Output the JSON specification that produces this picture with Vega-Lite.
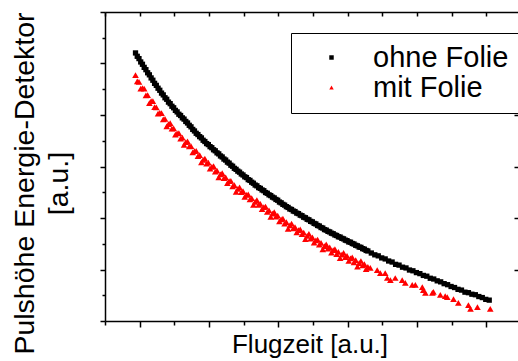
{
"$schema": "https://vega.github.io/schema/vega-lite/v6.json",
"width": 413, "height": 309,
"autosize": {"type": "none"},
"padding": {"left": 105, "top": 12, "right": 0, "bottom": 40},
"background": "white",
"config": {"view": {"stroke": null}, "font": "Liberation Sans"},
"data": {"values": [
{"t":0.88,"h":10.41,"s":"ohne Folie"},{"t":0.93,"h":10.28,"s":"ohne Folie"},{"t":0.98,"h":10.19,"s":"ohne Folie"},{"t":1.03,"h":10.06,"s":"ohne Folie"},{"t":1.08,"h":9.97,"s":"ohne Folie"},{"t":1.13,"h":9.85,"s":"ohne Folie"},{"t":1.18,"h":9.76,"s":"ohne Folie"},{"t":1.23,"h":9.64,"s":"ohne Folie"},{"t":1.28,"h":9.56,"s":"ohne Folie"},{"t":1.33,"h":9.44,"s":"ohne Folie"},{"t":1.38,"h":9.35,"s":"ohne Folie"},{"t":1.43,"h":9.23,"s":"ohne Folie"},{"t":1.48,"h":9.15,"s":"ohne Folie"},{"t":1.53,"h":9.04,"s":"ohne Folie"},{"t":1.58,"h":8.96,"s":"ohne Folie"},{"t":1.63,"h":8.85,"s":"ohne Folie"},{"t":1.68,"h":8.78,"s":"ohne Folie"},{"t":1.73,"h":8.67,"s":"ohne Folie"},{"t":1.78,"h":8.61,"s":"ohne Folie"},{"t":1.83,"h":8.5,"s":"ohne Folie"},{"t":1.88,"h":8.44,"s":"ohne Folie"},{"t":1.93,"h":8.34,"s":"ohne Folie"},{"t":1.98,"h":8.28,"s":"ohne Folie"},{"t":2.03,"h":8.18,"s":"ohne Folie"},{"t":2.08,"h":8.12,"s":"ohne Folie"},{"t":2.13,"h":8.03,"s":"ohne Folie"},{"t":2.18,"h":7.98,"s":"ohne Folie"},{"t":2.23,"h":7.89,"s":"ohne Folie"},{"t":2.28,"h":7.84,"s":"ohne Folie"},{"t":2.33,"h":7.75,"s":"ohne Folie"},{"t":2.38,"h":7.69,"s":"ohne Folie"},{"t":2.43,"h":7.6,"s":"ohne Folie"},{"t":2.48,"h":7.54,"s":"ohne Folie"},{"t":2.53,"h":7.44,"s":"ohne Folie"},{"t":2.58,"h":7.38,"s":"ohne Folie"},{"t":2.63,"h":7.29,"s":"ohne Folie"},{"t":2.68,"h":7.24,"s":"ohne Folie"},{"t":2.73,"h":7.16,"s":"ohne Folie"},{"t":2.78,"h":7.11,"s":"ohne Folie"},{"t":2.83,"h":7.02,"s":"ohne Folie"},{"t":2.88,"h":6.97,"s":"ohne Folie"},{"t":2.93,"h":6.89,"s":"ohne Folie"},{"t":2.98,"h":6.85,"s":"ohne Folie"},{"t":3.03,"h":6.77,"s":"ohne Folie"},{"t":3.08,"h":6.73,"s":"ohne Folie"},{"t":3.13,"h":6.65,"s":"ohne Folie"},{"t":3.18,"h":6.61,"s":"ohne Folie"},{"t":3.23,"h":6.53,"s":"ohne Folie"},{"t":3.28,"h":6.49,"s":"ohne Folie"},{"t":3.33,"h":6.41,"s":"ohne Folie"},{"t":3.38,"h":6.37,"s":"ohne Folie"},{"t":3.43,"h":6.29,"s":"ohne Folie"},{"t":3.48,"h":6.25,"s":"ohne Folie"},{"t":3.53,"h":6.17,"s":"ohne Folie"},{"t":3.58,"h":6.13,"s":"ohne Folie"},{"t":3.63,"h":6.05,"s":"ohne Folie"},{"t":3.68,"h":6.01,"s":"ohne Folie"},{"t":3.73,"h":5.93,"s":"ohne Folie"},{"t":3.78,"h":5.89,"s":"ohne Folie"},{"t":3.83,"h":5.82,"s":"ohne Folie"},{"t":3.88,"h":5.78,"s":"ohne Folie"},{"t":3.93,"h":5.71,"s":"ohne Folie"},{"t":3.98,"h":5.67,"s":"ohne Folie"},{"t":4.03,"h":5.6,"s":"ohne Folie"},{"t":4.08,"h":5.57,"s":"ohne Folie"},{"t":4.13,"h":5.49,"s":"ohne Folie"},{"t":4.18,"h":5.46,"s":"ohne Folie"},{"t":4.23,"h":5.39,"s":"ohne Folie"},{"t":4.28,"h":5.35,"s":"ohne Folie"},{"t":4.33,"h":5.28,"s":"ohne Folie"},{"t":4.38,"h":5.25,"s":"ohne Folie"},{"t":4.43,"h":5.18,"s":"ohne Folie"},{"t":4.48,"h":5.15,"s":"ohne Folie"},{"t":4.53,"h":5.09,"s":"ohne Folie"},{"t":4.58,"h":5.06,"s":"ohne Folie"},{"t":4.63,"h":4.99,"s":"ohne Folie"},{"t":4.68,"h":4.96,"s":"ohne Folie"},{"t":4.73,"h":4.9,"s":"ohne Folie"},{"t":4.78,"h":4.87,"s":"ohne Folie"},{"t":4.83,"h":4.81,"s":"ohne Folie"},{"t":4.88,"h":4.78,"s":"ohne Folie"},{"t":4.93,"h":4.72,"s":"ohne Folie"},{"t":4.98,"h":4.69,"s":"ohne Folie"},{"t":5.03,"h":4.62,"s":"ohne Folie"},{"t":5.08,"h":4.59,"s":"ohne Folie"},{"t":5.13,"h":4.53,"s":"ohne Folie"},{"t":5.18,"h":4.5,"s":"ohne Folie"},{"t":5.23,"h":4.44,"s":"ohne Folie"},{"t":5.28,"h":4.41,"s":"ohne Folie"},{"t":5.33,"h":4.35,"s":"ohne Folie"},{"t":5.38,"h":4.33,"s":"ohne Folie"},{"t":5.43,"h":4.27,"s":"ohne Folie"},{"t":5.48,"h":4.25,"s":"ohne Folie"},{"t":5.53,"h":4.19,"s":"ohne Folie"},{"t":5.58,"h":4.17,"s":"ohne Folie"},{"t":5.63,"h":4.11,"s":"ohne Folie"},{"t":5.68,"h":4.09,"s":"ohne Folie"},{"t":5.73,"h":4.03,"s":"ohne Folie"},{"t":5.78,"h":4.01,"s":"ohne Folie"},{"t":5.83,"h":3.95,"s":"ohne Folie"},{"t":5.88,"h":3.93,"s":"ohne Folie"},{"t":5.93,"h":3.87,"s":"ohne Folie"},{"t":5.98,"h":3.85,"s":"ohne Folie"},{"t":6.03,"h":3.79,"s":"ohne Folie"},{"t":6.08,"h":3.77,"s":"ohne Folie"},{"t":6.13,"h":3.71,"s":"ohne Folie"},{"t":6.18,"h":3.69,"s":"ohne Folie"},{"t":6.23,"h":3.63,"s":"ohne Folie"},{"t":6.28,"h":3.61,"s":"ohne Folie"},{"t":6.33,"h":3.55,"s":"ohne Folie"},{"t":6.38,"h":3.53,"s":"ohne Folie"},{"t":6.43,"h":3.48,"s":"ohne Folie"},{"t":6.48,"h":3.46,"s":"ohne Folie"},{"t":6.53,"h":3.41,"s":"ohne Folie"},{"t":6.58,"h":3.39,"s":"ohne Folie"},{"t":6.63,"h":3.34,"s":"ohne Folie"},{"t":6.68,"h":3.32,"s":"ohne Folie"},{"t":6.73,"h":3.27,"s":"ohne Folie"},{"t":6.78,"h":3.26,"s":"ohne Folie"},{"t":6.83,"h":3.21,"s":"ohne Folie"},{"t":6.88,"h":3.19,"s":"ohne Folie"},{"t":6.93,"h":3.14,"s":"ohne Folie"},{"t":6.98,"h":3.12,"s":"ohne Folie"},{"t":7.03,"h":3.07,"s":"ohne Folie"},{"t":7.08,"h":3.06,"s":"ohne Folie"},{"t":7.13,"h":3.01,"s":"ohne Folie"},{"t":7.18,"h":2.99,"s":"ohne Folie"},{"t":7.23,"h":2.94,"s":"ohne Folie"},{"t":7.28,"h":2.92,"s":"ohne Folie"},{"t":7.33,"h":2.87,"s":"ohne Folie"},{"t":7.38,"h":2.86,"s":"ohne Folie"},{"t":7.43,"h":2.81,"s":"ohne Folie"},{"t":7.48,"h":2.79,"s":"ohne Folie"},{"t":7.53,"h":2.74,"s":"ohne Folie"},{"t":7.58,"h":2.72,"s":"ohne Folie"},{"t":7.68,"h":2.64,"s":"ohne Folie"},{"t":7.78,"h":2.57,"s":"ohne Folie"},{"t":7.88,"h":2.53,"s":"ohne Folie"},{"t":7.98,"h":2.45,"s":"ohne Folie"},{"t":8.08,"h":2.41,"s":"ohne Folie"},{"t":8.18,"h":2.33,"s":"ohne Folie"},{"t":8.28,"h":2.29,"s":"ohne Folie"},{"t":8.38,"h":2.2,"s":"ohne Folie"},{"t":8.48,"h":2.17,"s":"ohne Folie"},{"t":8.58,"h":2.09,"s":"ohne Folie"},{"t":8.68,"h":2.06,"s":"ohne Folie"},{"t":8.78,"h":1.98,"s":"ohne Folie"},{"t":8.88,"h":1.95,"s":"ohne Folie"},{"t":8.98,"h":1.88,"s":"ohne Folie"},{"t":9.08,"h":1.84,"s":"ohne Folie"},{"t":9.18,"h":1.77,"s":"ohne Folie"},{"t":9.28,"h":1.74,"s":"ohne Folie"},{"t":9.38,"h":1.66,"s":"ohne Folie"},{"t":9.48,"h":1.63,"s":"ohne Folie"},{"t":9.58,"h":1.56,"s":"ohne Folie"},{"t":9.68,"h":1.52,"s":"ohne Folie"},{"t":9.78,"h":1.45,"s":"ohne Folie"},{"t":9.88,"h":1.41,"s":"ohne Folie"},{"t":9.98,"h":1.34,"s":"ohne Folie"},{"t":10.08,"h":1.3,"s":"ohne Folie"},{"t":10.18,"h":1.23,"s":"ohne Folie"},{"t":10.28,"h":1.2,"s":"ohne Folie"},{"t":10.38,"h":1.12,"s":"ohne Folie"},{"t":10.48,"h":1.1,"s":"ohne Folie"},{"t":10.58,"h":1.04,"s":"ohne Folie"},{"t":10.68,"h":1.02,"s":"ohne Folie"},{"t":10.78,"h":0.95,"s":"ohne Folie"},{"t":10.88,"h":0.91,"s":"ohne Folie"},{"t":10.98,"h":0.84,"s":"ohne Folie"},{"t":11.08,"h":0.81,"s":"ohne Folie"},
{"t":0.88,"h":9.55,"s":"mit Folie"},{"t":0.93,"h":9.31,"s":"mit Folie"},{"t":0.98,"h":9.29,"s":"mit Folie"},{"t":1.03,"h":9.02,"s":"mit Folie"},{"t":1.08,"h":9.04,"s":"mit Folie"},{"t":1.13,"h":9.02,"s":"mit Folie"},{"t":1.18,"h":8.76,"s":"mit Folie"},{"t":1.23,"h":8.77,"s":"mit Folie"},{"t":1.28,"h":8.46,"s":"mit Folie"},{"t":1.33,"h":8.54,"s":"mit Folie"},{"t":1.38,"h":8.54,"s":"mit Folie"},{"t":1.43,"h":8.31,"s":"mit Folie"},{"t":1.48,"h":8.3,"s":"mit Folie"},{"t":1.53,"h":8.05,"s":"mit Folie"},{"t":1.58,"h":8.08,"s":"mit Folie"},{"t":1.63,"h":8.07,"s":"mit Folie"},{"t":1.68,"h":7.83,"s":"mit Folie"},{"t":1.73,"h":7.85,"s":"mit Folie"},{"t":1.78,"h":7.56,"s":"mit Folie"},{"t":1.83,"h":7.65,"s":"mit Folie"},{"t":1.88,"h":7.68,"s":"mit Folie"},{"t":1.93,"h":7.47,"s":"mit Folie"},{"t":1.98,"h":7.48,"s":"mit Folie"},{"t":2.03,"h":7.24,"s":"mit Folie"},{"t":2.08,"h":7.29,"s":"mit Folie"},{"t":2.13,"h":7.3,"s":"mit Folie"},{"t":2.18,"h":7.08,"s":"mit Folie"},{"t":2.23,"h":7.12,"s":"mit Folie"},{"t":2.28,"h":6.84,"s":"mit Folie"},{"t":2.33,"h":6.95,"s":"mit Folie"},{"t":2.38,"h":6.98,"s":"mit Folie"},{"t":2.43,"h":6.78,"s":"mit Folie"},{"t":2.48,"h":6.79,"s":"mit Folie"},{"t":2.53,"h":6.55,"s":"mit Folie"},{"t":2.58,"h":6.6,"s":"mit Folie"},{"t":2.63,"h":6.61,"s":"mit Folie"},{"t":2.68,"h":6.4,"s":"mit Folie"},{"t":2.73,"h":6.44,"s":"mit Folie"},{"t":2.78,"h":6.16,"s":"mit Folie"},{"t":2.83,"h":6.26,"s":"mit Folie"},{"t":2.88,"h":6.31,"s":"mit Folie"},{"t":2.93,"h":6.11,"s":"mit Folie"},{"t":2.98,"h":6.15,"s":"mit Folie"},{"t":3.03,"h":5.92,"s":"mit Folie"},{"t":3.08,"h":5.99,"s":"mit Folie"},{"t":3.13,"h":6.01,"s":"mit Folie"},{"t":3.18,"h":5.8,"s":"mit Folie"},{"t":3.23,"h":5.84,"s":"mit Folie"},{"t":3.28,"h":5.58,"s":"mit Folie"},{"t":3.33,"h":5.69,"s":"mit Folie"},{"t":3.38,"h":5.74,"s":"mit Folie"},{"t":3.43,"h":5.55,"s":"mit Folie"},{"t":3.48,"h":5.58,"s":"mit Folie"},{"t":3.53,"h":5.35,"s":"mit Folie"},{"t":3.58,"h":5.43,"s":"mit Folie"},{"t":3.63,"h":5.44,"s":"mit Folie"},{"t":3.68,"h":5.23,"s":"mit Folie"},{"t":3.73,"h":5.28,"s":"mit Folie"},{"t":3.78,"h":5.01,"s":"mit Folie"},{"t":3.83,"h":5.13,"s":"mit Folie"},{"t":3.88,"h":5.19,"s":"mit Folie"},{"t":3.93,"h":5.0,"s":"mit Folie"},{"t":3.98,"h":5.04,"s":"mit Folie"},{"t":4.03,"h":4.82,"s":"mit Folie"},{"t":4.08,"h":4.9,"s":"mit Folie"},{"t":4.13,"h":4.92,"s":"mit Folie"},{"t":4.18,"h":4.72,"s":"mit Folie"},{"t":4.23,"h":4.77,"s":"mit Folie"},{"t":4.28,"h":4.51,"s":"mit Folie"},{"t":4.33,"h":4.63,"s":"mit Folie"},{"t":4.38,"h":4.69,"s":"mit Folie"},{"t":4.43,"h":4.51,"s":"mit Folie"},{"t":4.48,"h":4.55,"s":"mit Folie"},{"t":4.53,"h":4.34,"s":"mit Folie"},{"t":4.58,"h":4.42,"s":"mit Folie"},{"t":4.63,"h":4.44,"s":"mit Folie"},{"t":4.68,"h":4.24,"s":"mit Folie"},{"t":4.73,"h":4.3,"s":"mit Folie"},{"t":4.78,"h":4.04,"s":"mit Folie"},{"t":4.83,"h":4.17,"s":"mit Folie"},{"t":4.88,"h":4.23,"s":"mit Folie"},{"t":4.93,"h":4.05,"s":"mit Folie"},{"t":4.98,"h":4.09,"s":"mit Folie"},{"t":5.03,"h":3.87,"s":"mit Folie"},{"t":5.08,"h":3.95,"s":"mit Folie"},{"t":5.13,"h":3.98,"s":"mit Folie"},{"t":5.18,"h":3.78,"s":"mit Folie"},{"t":5.23,"h":3.84,"s":"mit Folie"},{"t":5.28,"h":3.58,"s":"mit Folie"},{"t":5.33,"h":3.71,"s":"mit Folie"},{"t":5.38,"h":3.78,"s":"mit Folie"},{"t":5.43,"h":3.6,"s":"mit Folie"},{"t":5.48,"h":3.65,"s":"mit Folie"},{"t":5.53,"h":3.44,"s":"mit Folie"},{"t":5.58,"h":3.53,"s":"mit Folie"},{"t":5.63,"h":3.56,"s":"mit Folie"},{"t":5.68,"h":3.37,"s":"mit Folie"},{"t":5.73,"h":3.43,"s":"mit Folie"},{"t":5.78,"h":3.18,"s":"mit Folie"},{"t":5.83,"h":3.31,"s":"mit Folie"},{"t":5.88,"h":3.38,"s":"mit Folie"},{"t":5.93,"h":3.2,"s":"mit Folie"},{"t":5.98,"h":3.25,"s":"mit Folie"},{"t":6.03,"h":3.04,"s":"mit Folie"},{"t":6.08,"h":3.13,"s":"mit Folie"},{"t":6.13,"h":3.16,"s":"mit Folie"},{"t":6.18,"h":2.97,"s":"mit Folie"},{"t":6.23,"h":3.03,"s":"mit Folie"},{"t":6.28,"h":2.78,"s":"mit Folie"},{"t":6.33,"h":2.91,"s":"mit Folie"},{"t":6.38,"h":2.98,"s":"mit Folie"},{"t":6.43,"h":2.81,"s":"mit Folie"},{"t":6.48,"h":2.86,"s":"mit Folie"},{"t":6.53,"h":2.66,"s":"mit Folie"},{"t":6.58,"h":2.75,"s":"mit Folie"},{"t":6.63,"h":2.79,"s":"mit Folie"},{"t":6.68,"h":2.6,"s":"mit Folie"},{"t":6.73,"h":2.68,"s":"mit Folie"},{"t":6.78,"h":2.44,"s":"mit Folie"},{"t":6.83,"h":2.58,"s":"mit Folie"},{"t":6.88,"h":2.65,"s":"mit Folie"},{"t":6.93,"h":2.48,"s":"mit Folie"},{"t":6.98,"h":2.53,"s":"mit Folie"},{"t":7.03,"h":2.33,"s":"mit Folie"},{"t":7.08,"h":2.43,"s":"mit Folie"},{"t":7.13,"h":2.47,"s":"mit Folie"},{"t":7.18,"h":2.28,"s":"mit Folie"},{"t":7.23,"h":2.36,"s":"mit Folie"},{"t":7.28,"h":2.11,"s":"mit Folie"},{"t":7.33,"h":2.25,"s":"mit Folie"},{"t":7.38,"h":2.33,"s":"mit Folie"},{"t":7.43,"h":2.16,"s":"mit Folie"},{"t":7.48,"h":2.21,"s":"mit Folie"},{"t":7.53,"h":2.01,"s":"mit Folie"},{"t":7.58,"h":2.1,"s":"mit Folie"},{"t":7.65,"h":2.06,"s":"mit Folie"},{"t":7.85,"h":1.98,"s":"mit Folie"},{"t":7.94,"h":1.86,"s":"mit Folie"},{"t":8.08,"h":1.86,"s":"mit Folie"},{"t":8.14,"h":1.67,"s":"mit Folie"},{"t":8.23,"h":1.59,"s":"mit Folie"},{"t":8.37,"h":1.67,"s":"mit Folie"},{"t":8.57,"h":1.59,"s":"mit Folie"},{"t":8.66,"h":1.48,"s":"mit Folie"},{"t":8.86,"h":1.4,"s":"mit Folie"},{"t":8.95,"h":1.4,"s":"mit Folie"},{"t":9.15,"h":1.32,"s":"mit Folie"},{"t":9.18,"h":1.2,"s":"mit Folie"},{"t":9.24,"h":1.09,"s":"mit Folie"},{"t":9.44,"h":1.09,"s":"mit Folie"},{"t":9.47,"h":1.13,"s":"mit Folie"},{"t":9.67,"h":1.01,"s":"mit Folie"},{"t":9.81,"h":0.97,"s":"mit Folie"},{"t":9.87,"h":0.93,"s":"mit Folie"},{"t":10.05,"h":0.85,"s":"mit Folie"},{"t":10.19,"h":0.7,"s":"mit Folie"},{"t":10.48,"h":0.62,"s":"mit Folie"},{"t":10.54,"h":0.47,"s":"mit Folie"},{"t":10.74,"h":0.54,"s":"mit Folie"},{"t":11.11,"h":0.47,"s":"mit Folie"}
]},
"layer": [
  {
    "mark": {"type": "point", "filled": true, "opacity": 1},
    "encoding": {
      "x": {"field": "t", "type": "quantitative",
        "scale": {"domain": [0, 11.91], "nice": false, "zero": false},
        "axis": {"orient": "bottom", "values": [0,1,2,3,4,5,6,7,8,9,10,11], "labels": false, "grid": false,
          "domainColor": "#000000", "domainWidth": 1.5, "tickColor": "#000000", "tickWidth": 1.5,
          "tickSize": {"condition": {"test": "datum.value % 2 === 1", "value": 6}, "value": 4},
          "title": "Flugzeit [a.u.]", "titleFont": "Liberation Sans", "titleFontSize": 26, "titleFontWeight": "normal",
          "titleColor": "#000000", "titleX": 204.5, "titleY": 31, "titleBaseline": "alphabetic", "titleAlign": "center"}},
      "y": {"field": "h", "type": "quantitative",
        "scale": {"domain": [0, 12], "nice": false, "zero": false},
        "axis": {"orient": "left", "values": [0,1,2,3,4,5,6,7,8,9,10,11,12], "labels": false, "grid": false,
          "domainColor": "#000000", "domainWidth": 1.5, "tickColor": "#000000", "tickWidth": 1.5,
          "tickSize": {"condition": {"test": "datum.value % 2 === 0", "value": 5}, "value": 3},
          "title": ["Pulshöhe Energie-Detektor", "[a.u.]"], "titleFont": "Liberation Sans", "titleFontSize": 28.5,
          "titleFontWeight": "normal", "titleColor": "#000000", "titleAngle": 270,
          "titleX": -72, "titleY": 171, "titleBaseline": "alphabetic", "titleAlign": "center", "titleLineHeight": 34}},
      "color": {"field": "s", "type": "nominal",
        "scale": {"domain": ["ohne Folie", "mit Folie"], "range": ["#000000", "#ff0000"]},
        "legend": {"orient": "none", "legendX": 186, "legendY": 21, "title": null,
          "strokeColor": "#000000", "padding": 10, "fillColor": "#ffffff",
          "labelFont": "Liberation Sans", "labelFontSize": 29, "labelColor": "#000000", "labelLimit": 300,
          "symbolOffset": 16, "labelOffset": 27, "rowPadding": 0, "symbolSize": 20, "symbolStrokeWidth": 0}},
      "shape": {"field": "s", "type": "nominal",
        "scale": {"domain": ["ohne Folie", "mit Folie"], "range": ["square", "triangle-up"]}},
      "size": {"condition": {"test": "datum.s === 'mit Folie'", "value": 44}, "value": 28}
    }
  },
  {
    "mark": {"type": "point", "opacity": 0},
    "encoding": {
      "x": {"field": "t", "type": "quantitative",
        "axis": {"orient": "top", "values": [0,1,2,3,4,5,6,7,8,9,10,11], "labels": false, "grid": false, "title": null,
          "domainColor": "#000000", "domainWidth": 1.5, "tickColor": "#000000", "tickWidth": 1.5, "tickSize": -4}},
      "y": {"field": "h", "type": "quantitative",
        "axis": {"orient": "right", "values": [2,4,6,8,10], "labels": false, "grid": false, "title": null,
          "domain": false, "tickColor": "#000000", "tickWidth": 1.5, "tickSize": -4}}
    }
  }
],
"resolve": {"axis": {"x": "independent", "y": "independent"}}
}
